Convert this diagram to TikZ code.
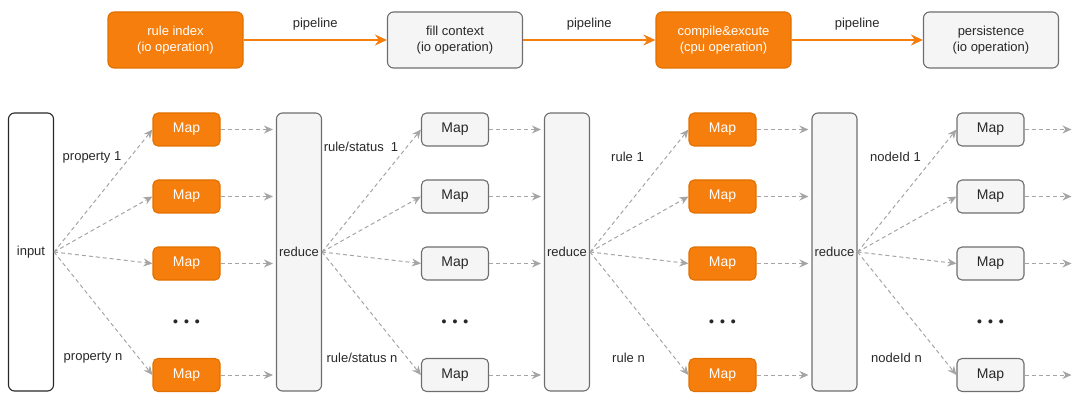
\documentclass[tikz,border=0pt]{standalone}
\usepackage{fontspec}
\setmainfont{Liberation Sans}
\usetikzlibrary{arrows.meta}
\definecolor{org}{RGB}{246,126,12}
\definecolor{orgdark}{RGB}{226,112,0}
\definecolor{gfill}{RGB}{245,245,245}
\definecolor{gline}{RGB}{110,110,110}
\definecolor{txtc}{RGB}{40,40,40}
\definecolor{dash}{RGB}{165,165,165}
\begin{document}
\begin{tikzpicture}[x=1pt,y=-1pt,
  font=\fontsize{13}{16}\selectfont, text=txtc,
  box/.style={rounded corners=6pt, line width=1.1pt, inner sep=0pt, align=center},
  topO/.style={box, fill=org, draw=orgdark, text=white, minimum width=135pt, minimum height=56pt},
  topG/.style={box, fill=gfill, draw=gline, minimum width=135pt, minimum height=56pt},
  mapO/.style={box, rounded corners=5pt, fill=org, draw=orgdark, text=white, minimum width=67pt, minimum height=33pt, font=\fontsize{14}{16}\selectfont},
  mapG/.style={box, rounded corners=5pt, fill=gfill, draw=gline, minimum width=67pt, minimum height=33pt, font=\fontsize{14}{16}\selectfont},
  tallbox/.style={box, fill=gfill, draw=gline, minimum width=45pt, minimum height=278pt},
  pipe/.style={draw=org, line width=2pt, -{Stealth[length=12pt,width=11pt]}},
  dflow/.style={draw=dash, line width=1pt, dash pattern=on 4pt off 3pt, -{Stealth[length=9pt,width=8pt,fill=dash]}},
  lbl/.style={inner sep=0pt}]
\useasboundingbox (0,0) rectangle (1072,393);

% top pipeline
\node[topO] (ri) at (175.5,40) {rule index\\(io operation)};
\node[topG] (fc) at (455,40) {fill context\\(io operation)};
\node[topO] (ce) at (723.5,40) {compile\&excute\\(cpu operation)};
\node[topG] (pe) at (991,40) {persistence\\(io operation)};
\draw[pipe] (ri) -- node[above=5pt, text=txtc] {pipeline} (fc);
\draw[pipe] (fc) -- node[above=5pt, text=txtc] {pipeline} (ce);
\draw[pipe] (ce) -- node[above=5pt, text=txtc] {pipeline} (pe);

% tall boxes
\node[tallbox, fill=white, draw=txtc] (in) at (31,252) {input};
\node[tallbox] (red1) at (299,252) {reduce};
\node[tallbox] (red2) at (567,252) {reduce};
\node[tallbox] (red3) at (834.5,252) {reduce};

% map columns
\foreach \c/\x/\s in {1/186.5/mapO,2/455/mapG,3/722.5/mapO,4/990.5/mapG} {
  \foreach \r/\y in {1/129.5,2/196.5,3/263.5,4/375} {
    \node[\s] (m\c\r) at (\x,\y) {Map};
  }
  \node[lbl, font=\fontsize{14}{16}\selectfont\bfseries] (dots\c) at (\x,323) {•\hspace{6pt}•\hspace{6pt}•};
}

% end coordinates for last column
\foreach \r/\y in {1/129.5,2/196.5,3/263.5,4/375} {
  \coordinate (e\r) at (1071.5,\y);
}

% fan-out arrows
\foreach \src/\c in {in/1,red1/2,red2/3,red3/4} {
  \foreach \r in {1,...,4} {
    \draw[dflow] (\src.east) -- (m\c\r.west);
  }
}

% map to reduce arrows
\foreach \c/\dst in {1/red1,2/red2,3/red3} {
  \foreach \r in {1,...,4} {
    \draw[dflow, shorten >=3pt] (m\c\r.east) -- (m\c\r.east -| \dst.west);
  }
}
\foreach \r in {1,...,4} {
  \draw[dflow] (m4\r.east) -- (e\r);
}

% labels
\node[lbl] (p1) at (92,157) {property 1};
\node[lbl] (pn) at (93,358) {property n};
\node[lbl] (s1) at (361,147) {rule/status\ \ 1};
\node[lbl] (sn) at (362,358) {rule/status n};
\node[lbl] (r1) at (627.5,157) {rule 1};
\node[lbl] (rn) at (628.5,358) {rule n};
\node[lbl] (n1) at (895.5,157) {nodeId 1};
\node[lbl] (nn) at (896.5,358) {nodeId n};
\end{tikzpicture}
\end{document}
